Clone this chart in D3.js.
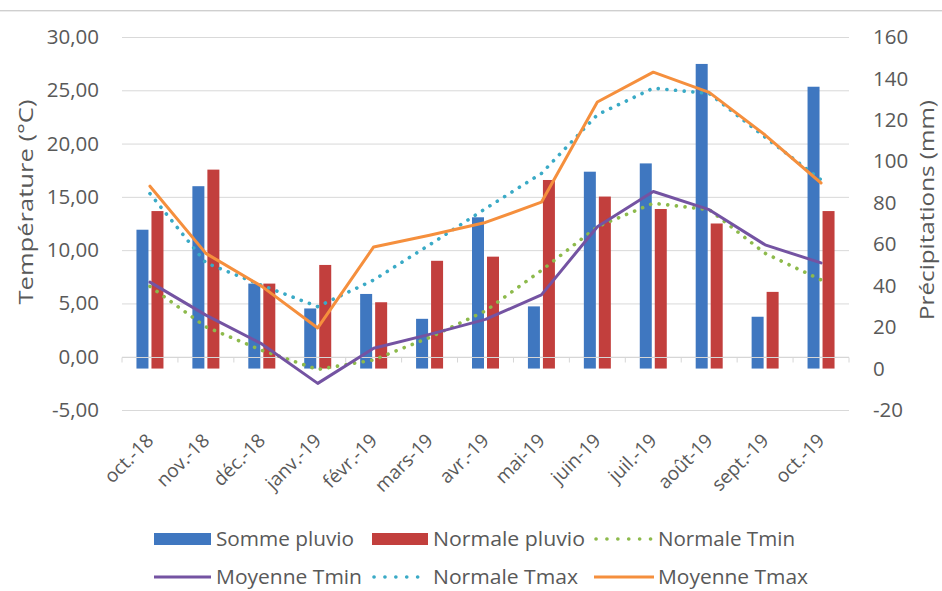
<!DOCTYPE html>
<html>
<head>
<meta charset="utf-8">
<script src="https://cdn.jsdelivr.net/npm/d3@7"></script>
<style>
  html, body { margin: 0; padding: 0; background: #ffffff; }
  svg { display: block; font-family: "Open Sans", "Noto Sans", sans-serif; }
</style>
</head>
<body>
<svg id="chart" width="942" height="591"></svg>
<script>
// ---------- DATA ----------
const categories = ["oct.-18","nov.-18","déc.-18","janv.-19","févr.-19","mars-19","avr.-19","mai-19","juin-19","juil.-19","août-19","sept.-19","oct.-19"];
const sommePluvio   = [67, 88, 41, 29, 36, 24, 73, 30, 95, 99, 147, 25, 136];
const normalePluvio = [76, 96, 41, 50, 32, 52, 54, 91, 83, 77, 70, 37, 76];
const normaleTmin   = [6.6, 2.8, 0.6, -1.2, -0.3, 1.8, 4.3, 8.1, 12.2, 14.4, 13.8, 9.7, 7.2];
const moyenneTmin   = [7.0, 3.9, 1.2, -2.5, 0.8, 2.1, 3.5, 5.8, 12.2, 15.5, 13.8, 10.5, 8.8];
const normaleTmax   = [15.3, 8.8, 6.7, 4.7, 7.2, 10.5, 13.9, 17.2, 22.7, 25.2, 24.7, 20.6, 16.6];
const moyenneTmax   = [16.0, 9.7, 6.6, 2.7, 10.3, 11.4, 12.6, 14.5, 23.9, 26.7, 24.8, 20.8, 16.3];
const leftTicks  = [-5, 0, 5, 10, 15, 20, 25, 30];
const rightTicks = [-20, 0, 20, 40, 60, 80, 100, 120, 140, 160];
const barSeriesNames  = ["Somme pluvio", "Normale pluvio"];
const lineSeriesNames = ["Normale Tmin", "Moyenne Tmin", "Normale Tmax", "Moyenne Tmax"];
const leftTitle  = "Température (°C)";
const rightTitle = "Précipitations (mm)";

// ---------- STYLES ----------
const style = {
  "Somme pluvio":   { color: "#3F77C0", type: "bar" },
  "Normale pluvio": { color: "#C23F3D", type: "bar" },
  "Normale Tmin":   { color: "#8DBA4C", type: "dot" },
  "Moyenne Tmin":   { color: "#7453A2", type: "line" },
  "Normale Tmax":   { color: "#3AAAC6", type: "dot" },
  "Moyenne Tmax":   { color: "#F58F3D", type: "line" }
};
const barValues  = { "Somme pluvio": sommePluvio, "Normale pluvio": normalePluvio };
const lineValues = { "Normale Tmin": normaleTmin, "Moyenne Tmin": moyenneTmin, "Normale Tmax": normaleTmax, "Moyenne Tmax": moyenneTmax };
const textColor = "#595959";
const gridColor = "#d9d9d9";

// ---------- LAYOUT ----------
const svg = d3.select("#chart");
const plotL = 122, plotR = 849, plotT = 37, plotB = 410;

const x = d3.scaleBand().domain(categories).range([plotL, plotR]).padding(0);
const xSub = d3.scaleBand().domain(barSeriesNames).range([-13.5, 13.5]).paddingInner(0.2);
const yL = d3.scaleLinear().domain([-5, 30]).range([plotB, plotT]);
const yR = d3.scaleLinear().domain([-20, 160]).range([plotB, plotT]);

// top border line
svg.append("line").attr("x1", 0).attr("x2", 942).attr("y1", 10.5).attr("y2", 10.5)
  .attr("stroke", "#cfcfcf").attr("stroke-width", 1);
svg.append("line").attr("x1", 0).attr("x2", 942).attr("y1", 11.5).attr("y2", 11.5)
  .attr("stroke", "#ececec").attr("stroke-width", 1);

// gridlines
const grid = svg.append("g").attr("transform", `translate(${plotL},0)`)
  .call(d3.axisLeft(yL).tickValues(leftTicks).tickSize(-(plotR - plotL)).tickFormat(""));
grid.select(".domain").remove();
grid.selectAll("line").attr("stroke", gridColor).attr("stroke-width", 1);

// left axis labels
const fmtL = d => d3.format(".2f")(d).replace(".", ",").replace("\u2212", "-");
const axL = svg.append("g").attr("transform", `translate(${plotL},0)`)
  .call(d3.axisLeft(yL).tickValues(leftTicks).tickSize(0).tickPadding(23).tickFormat(fmtL));
axL.select(".domain").remove();
axL.selectAll("text").attr("fill", textColor).style("font-size", "20.5px")
  .style("font-family", "'Open Sans', sans-serif");

// right axis labels
const fmtR = d => d3.format("d")(d).replace("\u2212", "-");
const axR = svg.append("g").attr("transform", `translate(${plotR},0)`)
  .call(d3.axisRight(yR).tickValues(rightTicks).tickSize(0).tickPadding(24).tickFormat(fmtR));
axR.select(".domain").remove();
axR.selectAll("text").attr("fill", textColor).style("font-size", "20.5px")
  .style("font-family", "'Open Sans', sans-serif");

// axis titles
svg.append("text").attr("transform", `translate(33,202) rotate(-90)`)
  .attr("text-anchor", "middle").attr("fill", textColor)
  .style("font-size", "20px").attr("textLength", 205).attr("lengthAdjust", "spacingAndGlyphs")
  .text(leftTitle);
svg.append("text").attr("transform", `translate(934,210) rotate(-90)`)
  .attr("text-anchor", "middle").attr("fill", textColor)
  .style("font-size", "20px").attr("textLength", 220).attr("lengthAdjust", "spacingAndGlyphs")
  .text(rightTitle);

// bars
const barG = svg.append("g");
barSeriesNames.forEach(name => {
  barG.selectAll(null).data(barValues[name]).enter().append("rect")
    .attr("x", (d, i) => x(categories[i]) + x.bandwidth() / 2 + xSub(name))
    .attr("width", xSub.bandwidth())
    .attr("y", d => Math.min(yR(d), yR(0)))
    .attr("height", d => Math.abs(yR(0) - yR(d)))
    .attr("fill", style[name].color);
});

// category axis line at temperature 0
const y0 = Math.round(yL(0)) + 0.5;
svg.append("line").attr("x1", plotL).attr("x2", plotR).attr("y1", y0).attr("y2", y0)
  .attr("stroke", "#d6d6d6").attr("stroke-width", 1.2);
const bounds = categories.map(c => x(c)).concat([plotR]);
svg.selectAll(null).data(bounds).enter().append("line")
  .attr("x1", d => d).attr("x2", d => d).attr("y1", y0).attr("y2", y0 + 5)
  .attr("stroke", "#d6d6d6").attr("stroke-width", 1);

// lines
const lineGen = d3.line()
  .x((d, i) => x(categories[i]) + x.bandwidth() / 2)
  .y(d => yL(d));
lineSeriesNames.forEach(name => {
  const p = svg.append("path").datum(lineValues[name])
    .attr("d", lineGen).attr("fill", "none")
    .attr("stroke", style[name].color)
    .attr("stroke-linejoin", "round");
  if (style[name].type === "dot") {
    p.attr("stroke-width", 3.6).attr("stroke-dasharray", "0.1 8.6").attr("stroke-linecap", "round");
  } else {
    p.attr("stroke-width", 3).attr("stroke-linecap", "round");
  }
});

// x labels
svg.append("g").selectAll("text").data(categories).enter().append("text")
  .attr("transform", d => `translate(${x(d) + x.bandwidth() / 2},437) rotate(-45)`)
  .attr("text-anchor", "end").attr("dy", "0.35em")
  .attr("fill", textColor).style("font-size", "19px")
  .text(d => d);

// legend
const legendOrder = ["Somme pluvio", "Normale pluvio", "Normale Tmin", "Moyenne Tmin", "Normale Tmax", "Moyenne Tmax"];
const colSw = [[154, 211], [372, 428], [594, 654]];
const colTx = [216, 433, 658];
const rowY = [539, 577];
const legendWidths = { "Somme pluvio": 138, "Normale pluvio": 152, "Normale Tmin": 137,
                       "Moyenne Tmin": 146, "Normale Tmax": 145, "Moyenne Tmax": 150 };
const lg = svg.append("g");
legendOrder.forEach((name, k) => {
  const col = k % 3, row = Math.floor(k / 3);
  const cy = rowY[row];
  const st = style[name];
  const [a, b] = colSw[col];
  if (st.type === "bar") {
    lg.append("rect").attr("x", a).attr("y", cy - 6).attr("width", b - a).attr("height", 12).attr("fill", st.color);
  } else if (st.type === "line") {
    lg.append("line").attr("x1", a).attr("x2", b).attr("y1", cy).attr("y2", cy)
      .attr("stroke", st.color).attr("stroke-width", 3);
  } else {
    lg.append("line").attr("x1", a + 2).attr("x2", b).attr("y1", cy).attr("y2", cy)
      .attr("stroke", st.color).attr("stroke-width", 3.6)
      .attr("stroke-dasharray", "0.1 10.8").attr("stroke-linecap", "round");
  }
  lg.append("text").attr("x", colTx[col]).attr("y", cy).attr("dy", "0.35em")
    .attr("fill", textColor).style("font-size", "20px")
    .attr("textLength", legendWidths[name]).attr("lengthAdjust", "spacingAndGlyphs")
    .text(name);
});
</script>
</body>
</html>
